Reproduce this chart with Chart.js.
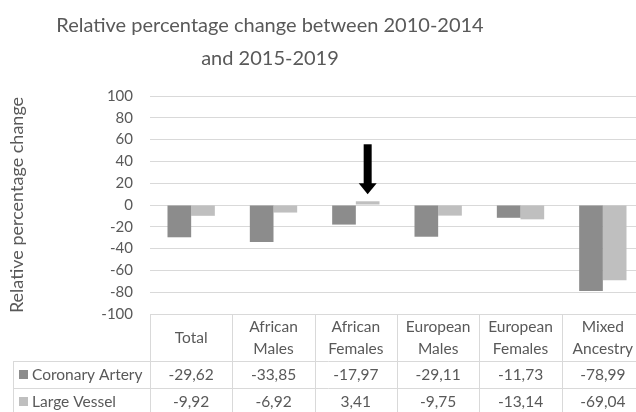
<!DOCTYPE html>
<html>
<head>
<meta charset="utf-8">
<script src="https://cdn.jsdelivr.net/npm/chart.js@4.4.1/dist/chart.umd.min.js"></script>
<style>
    html, body { margin: 0; padding: 0; background: #fff; overflow: hidden; }
    #wrap { width: 636px; height: 412px; overflow: hidden; position: relative; }
    #box { width: 644px; height: 412px; }
</style>
</head>
<body>
<div id="wrap"><div id="box"><canvas id="barchart"></canvas></div></div>
<script>
'use strict'

var titleLines = ['Relative percentage change between 2010-2014', 'and 2015-2019'];
var categories = [['Total'], ['African', 'Males'], ['African', 'Females'], ['European', 'Males'], ['European', 'Females'], ['Mixed', 'Ancestry']];
var seriesNames = ['Coronary Artery', 'Large Vessel'];
var coronaryArtery = [-29.62, -33.85, -17.97, -29.11, -11.73, -78.99];
var largeVessel = [-9.92, -6.92, 3.41, -9.75, -13.14, -69.04];
var yMin = -100, yMax = 100, yStep = 20;
var arrowIndex = 2; // arrow over African Females / Large Vessel

var textColor = '#595959';
var gridColor = '#d9d9d9';
var seriesColors = ['#8c8c8c', '#bfbfbf'];
var fontName = 'Lato';

function fmt(v) {
    return v.toFixed(2).replace('.', ',');
}

/* title, data table and arrow drawn on the canvas */
var extrasPlugin = {
    id: 'extras',
    afterDraw: function (chart) {
        var ctx = chart.ctx;
        var area = chart.chartArea;
        var xs = chart.scales.x;
        var n = categories.length;
        var colW = (xs.right - xs.left) / n;
        var top = area.bottom;
        var headH = 47, rowH = 27, labelLeft = 13;
        var rows = [coronaryArtery, largeVessel];

        ctx.save();

        // title
        ctx.fillStyle = textColor;
        ctx.font = '20px ' + fontName;
        ctx.textAlign = 'center';
        ctx.textBaseline = 'middle';
        ctx.fillText(titleLines[0], 270, 26);
        ctx.fillText(titleLines[1], 270, 59);

        // table grid
        ctx.strokeStyle = gridColor;
        ctx.lineWidth = 1;
        ctx.beginPath();
        for (var i = 0; i <= n; i++) {
            var lx = Math.round(xs.left + i * colW) + 0.5;
            ctx.moveTo(lx, top);
            ctx.lineTo(lx, top + headH + rows.length * rowH);
        }
        ctx.moveTo(labelLeft + 0.5, top + headH);
        ctx.lineTo(labelLeft + 0.5, top + headH + rows.length * rowH);
        for (var r = 0; r <= rows.length; r++) {
            var ly = Math.round(top + headH + r * rowH) + 0.5;
            ctx.moveTo(labelLeft, ly);
            ctx.lineTo(area.right, ly);
        }
        ctx.stroke();

        // header text
        ctx.font = '15.5px ' + fontName;
        ctx.fillStyle = textColor;
        for (var c = 0; c < n; c++) {
            var cx = xs.left + (c + 0.5) * colW;
            var lines = categories[c];
            for (var k = 0; k < lines.length; k++) {
                var cy = top + headH / 2 + (k - (lines.length - 1) / 2) * 22;
                ctx.fillText(lines[k], cx, cy);
            }
        }

        // rows
        for (var r2 = 0; r2 < rows.length; r2++) {
            var ry = top + headH + (r2 + 0.5) * rowH;
            ctx.fillStyle = seriesColors[r2];
            ctx.fillRect(19, Math.round(ry - 4.5), 9, 9);
            ctx.fillStyle = textColor;
            ctx.textAlign = 'left';
            ctx.fillText(seriesNames[r2], 32, ry);
            ctx.textAlign = 'center';
            for (var c2 = 0; c2 < n; c2++) {
                ctx.fillText(fmt(rows[r2][c2]), xs.left + (c2 + 0.5) * colW, ry);
            }
        }

        // arrow
        var bar = chart.getDatasetMeta(1).data[arrowIndex];
        var ax = bar.x, tip = bar.y - 7;
        ctx.fillStyle = '#000';
        ctx.fillRect(ax - 4, tip - 50, 8, 40);
        ctx.beginPath();
        ctx.moveTo(ax - 9, tip - 11);
        ctx.lineTo(ax + 9, tip - 11);
        ctx.lineTo(ax, tip);
        ctx.closePath();
        ctx.fill();

        ctx.restore();
    }
};

var barchart = document.getElementById('barchart').getContext('2d');
var mybarchart = {
    type: 'bar',
    data: {
        labels: categories,
        datasets: [{
            label: seriesNames[0],
            data: coronaryArtery,
            backgroundColor: seriesColors[0],
            borderWidth: 0,
            barPercentage: 1,
            categoryPercentage: 0.575,
        }, {
            label: seriesNames[1],
            data: largeVessel,
            backgroundColor: seriesColors[1],
            borderWidth: 0,
            barPercentage: 1,
            categoryPercentage: 0.575,
        }]
    },
    options: {
        responsive: true,
        maintainAspectRatio: false,
        animation: false,
        layout: {
            padding: { top: 96, bottom: 98, left: 0, right: 0 },
        },
        plugins: {
            legend: { display: false },
            tooltip: { enabled: false },
            title: { display: false },
        },
        scales: {
            x: {
                display: false,
            },
            y: {
                min: yMin,
                max: yMax,
                afterFit: function (scale) {
                    scale.width = 150;
                },
                ticks: {
                    stepSize: yStep,
                    autoSkip: false,
                    padding: 17,
                    color: textColor,
                    font: { family: fontName, size: 15 },
                },
                grid: {
                    color: gridColor,
                    drawTicks: false,
                },
                border: { display: false },
                title: {
                    display: true,
                    text: 'Relative percentage change',
                    color: textColor,
                    font: { family: fontName, size: 18 },
                    padding: { top: 6, bottom: 0 },
                },
            }
        }
    },
    plugins: [extrasPlugin]
};
var mybarchartexecu = new Chart(barchart, mybarchart);
</script>
</body>
</html>
